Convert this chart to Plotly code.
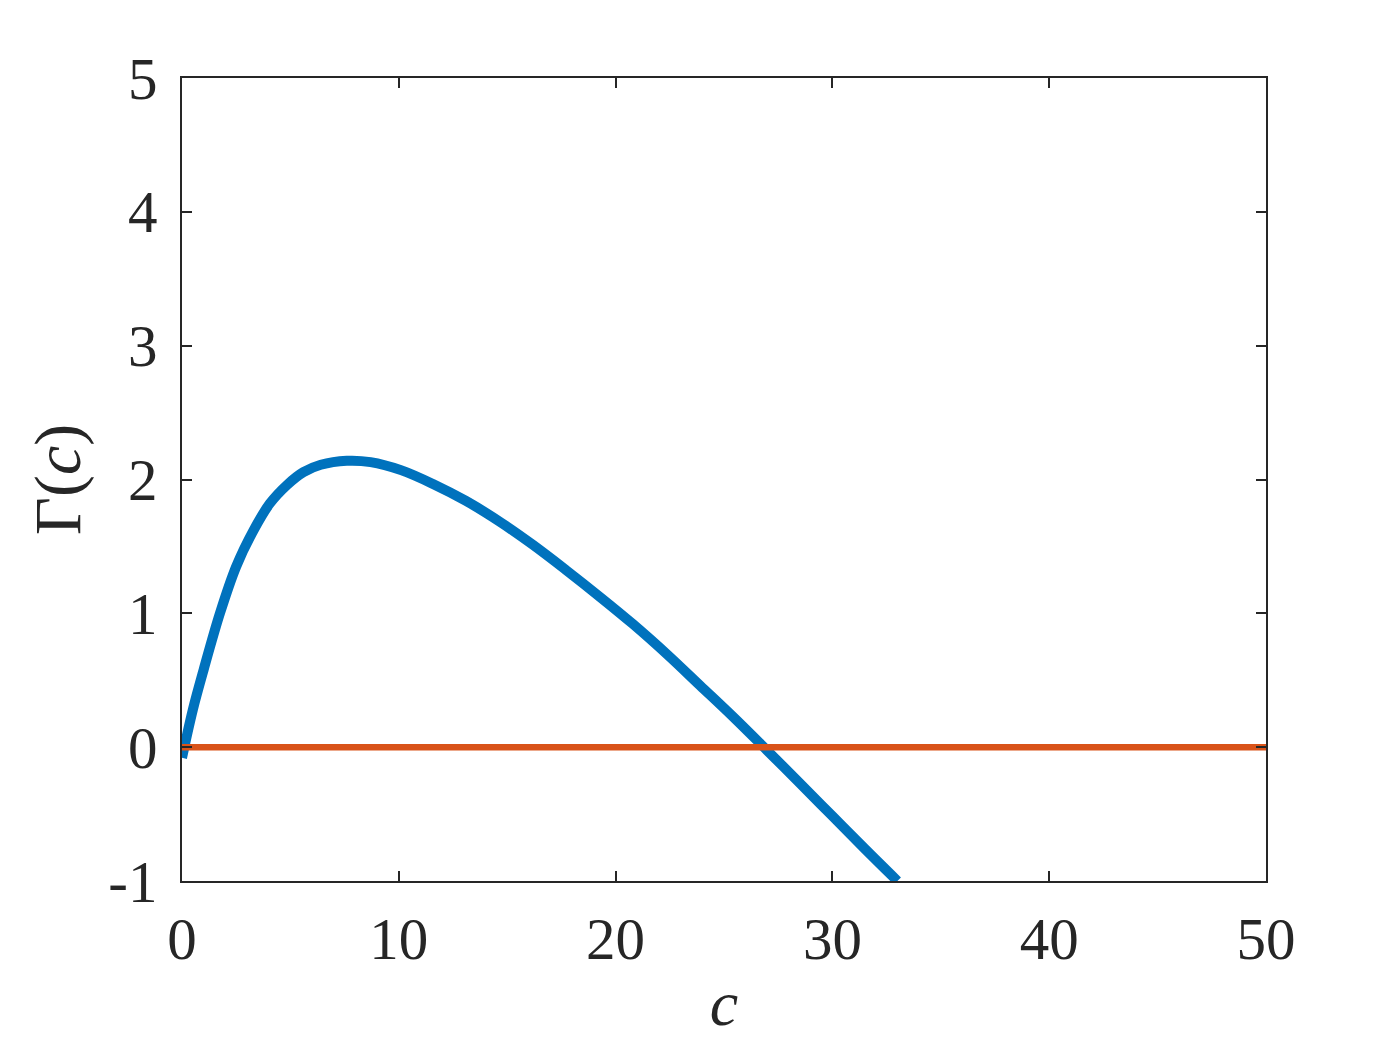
import plotly.graph_objects as go

# values
c_vals = [0.0, 0.5, 1.0, 1.75, 2.5, 3.3, 4.05, 4.85, 5.6, 6.4, 7.6, 8.7, 10.1,
          11.6, 13.1, 14.7, 16.2, 17.7, 19.3, 20.8, 22.4, 23.9, 25.4, 26.9,
          28.5, 30.0, 31.5, 33.0]
gamma_vals = [-0.08, 0.28, 0.58, 1.0, 1.35, 1.62, 1.82, 1.96, 2.055, 2.11, 2.14,
              2.13, 2.07, 1.965, 1.84, 1.68, 1.51, 1.325, 1.12, 0.92, 0.69, 0.46,
              0.23, -0.01, -0.27, -0.515, -0.76, -1.0]
zero_x = [0, 50]
zero_y = [0, 0]

x_ticks = [0, 10, 20, 30, 40, 50]
y_ticks = [-1, 0, 1, 2, 3, 4, 5]
y_tick_text = ["-1", "0", "1", "2", "3", "4", "5"]

FONT = "Liberation Serif, Times New Roman, serif"
INK = "#262626"

fig = go.Figure()

fig.add_trace(go.Scatter(
    x=c_vals, y=gamma_vals, mode="lines",
    line=dict(color="#0072BD", width=10, shape="spline", smoothing=1.0),
    cliponaxis=False, showlegend=False
))

fig.add_trace(go.Scatter(
    x=zero_x, y=zero_y, mode="lines",
    line=dict(color="#D95319", width=6.5),
    cliponaxis=False, showlegend=False
))

axis_common = dict(
    showgrid=False, zeroline=False,
    showline=True, linecolor=INK, linewidth=1.5, mirror="ticks",
    ticks="inside", ticklen=10, tickwidth=1.5, tickcolor=INK,
    tickfont=dict(family=FONT, size=59, color=INK),
)

fig.update_xaxes(
    range=[0, 50], tickvals=x_ticks, ticklabelstandoff=5,
    title=dict(text="<i>c</i>", font=dict(family=FONT, size=64, color=INK),
               standoff=10),
    **axis_common
)
fig.update_yaxes(
    range=[-1, 5], tickvals=y_ticks, ticktext=y_tick_text, ticklabelstandoff=11,
    title=dict(text="Γ(<i>c</i>)", font=dict(family=FONT, size=66, color=INK),
               standoff=6),
    **axis_common
)

# page body has an 8px margin, so the margins are shifted to keep the plot box in place
fig.update_layout(
    width=1400, height=1050,
    margin=dict(l=174, r=142, t=70, b=177),
    plot_bgcolor="white", paper_bgcolor="white",
)

fig.write_html("out.html")
